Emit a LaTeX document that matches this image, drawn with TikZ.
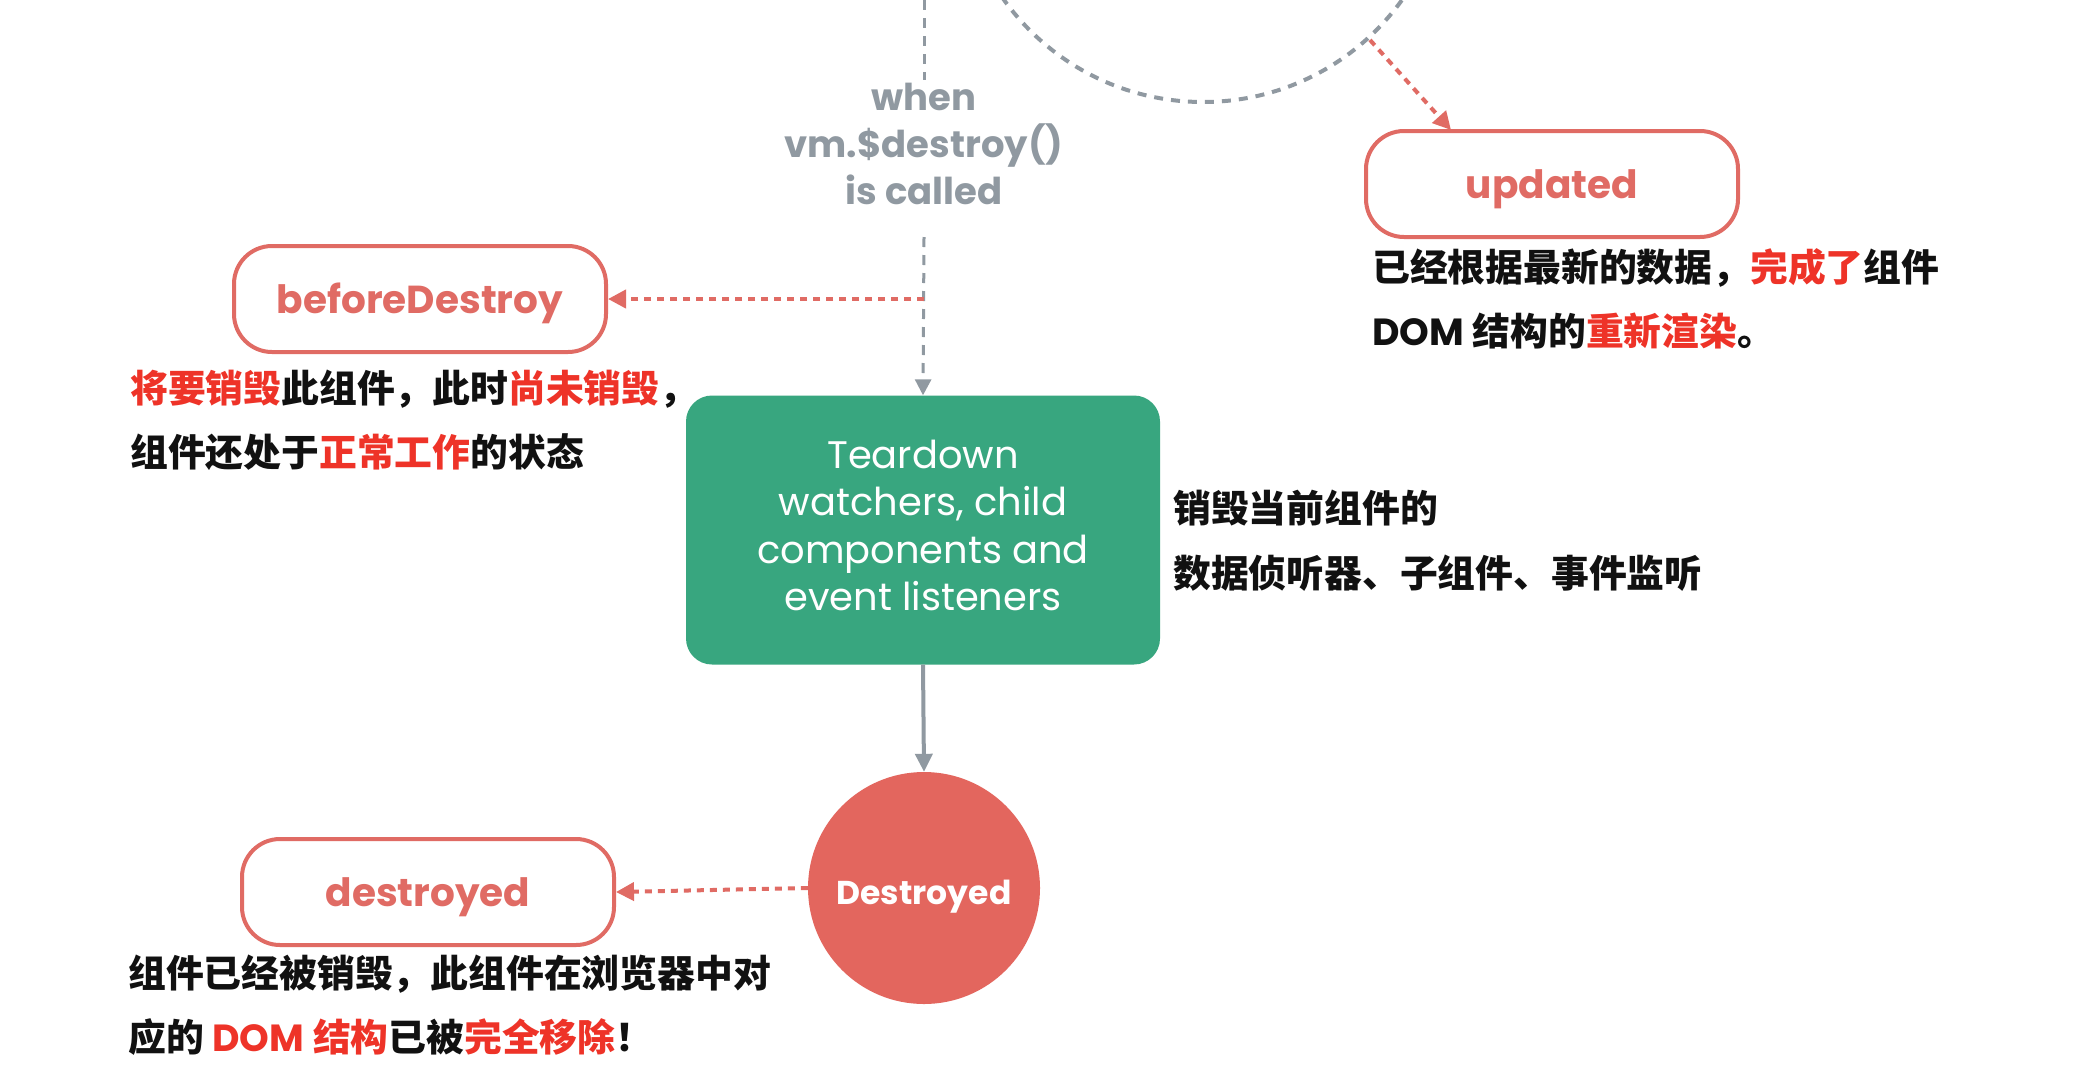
\documentclass[tikz,border=0pt]{standalone}
\usepackage{fontspec}
\setmainfont{Poppins}
\newfontfamily\cjk{Noto Sans CJK SC}
\usetikzlibrary{arrows.meta}
\definecolor{hookred}{HTML}{E06B64}
\definecolor{circred}{HTML}{E3665E}
\definecolor{hlred}{HTML}{EE3328}
\definecolor{vgreen}{HTML}{38A67F}
\definecolor{vgray}{HTML}{9099A1}
\definecolor{txtblack}{HTML}{111111}
\tikzset{
  hook/.style={draw=hookred, line width=4pt, rounded corners=38pt, fill=white,
    minimum width=372pt, minimum height=106pt, text=hookred,
    text height=28pt, text depth=0pt,
    font=\fontsize{39}{45}\selectfont\bfseries},
  desc/.style={anchor=base west, inner sep=0pt, text=txtblack,
    font=\cjk\fontsize{37.8}{44}\selectfont\bfseries},
  rdash/.style={draw=hookred, line width=4pt, dash pattern=on 7pt off 6pt,
    -{Triangle[length=18pt,width=18pt]}},
  gdash/.style={draw=vgray, line width=3pt, dash pattern=on 10pt off 8pt},
  tip/.style={-{Triangle[length=18pt,width=17pt]}},
}
\newcommand{\hl}[1]{{\color{hlred}#1}}
\newcommand{\dom}{{\rmfamily\bfseries DOM}}
\begin{document}
\begin{tikzpicture}[x=1pt,y=-1pt]
\useasboundingbox[fill=white] (0,0) rectangle (2085,1090);

% dashed loop circle at top
\begin{scope}
\clip (0,0) rectangle (2085,1090);
\draw[draw=vgray, line width=4pt, dash pattern=on 9pt off 8pt] (1203,-143) circle (245);
\end{scope}

% nodes
\node[hook] (upd) at (1552,184) {updated};
\node[hook] (bd) at (420,299) {beforeDestroy};
\node[hook] (dd) at (428,892) {destroyed};

\node[draw=none, fill=vgreen, rounded corners=26pt, minimum width=474pt, minimum height=269pt,
  label={[name=tdtext, text=white, align=center, yshift=4.7pt,
  font=\fontsize{38.4}{47.5}\selectfont]center:Teardown\\watchers, child\\components and\\event listeners}]
  (td) at (923,530) {};

\node[circle, fill=circred, minimum size=232pt, inner sep=0pt, text=white,
  text height=33pt, text depth=0pt,
  font=\fontsize{33}{40}\selectfont\bfseries] (dc) at (924,888) {Destroyed};

\node[text=vgray, align=center, font=\fontsize{37}{47}\selectfont\bfseries] (when) at (924,144)
  {when\\vm.\$destroy()\\is called};

% descriptions
\node[desc] (u1) at (1372,281) {已经根据最新的数据，\hl{完成了}组件};
\node[desc] (u2) at (1372,345) {\dom{} 结构的\hl{重新渲染}。};
\node[desc] (b1) at (130,402) {\hl{将要销毁}此组件，此时\hl{尚未销毁}，};
\node[desc] (b2) at (130,466) {组件还处于\hl{正常工作}的状态};
\node[desc] (t1) at (1173,522) {销毁当前组件的};
\node[desc] (t2) at (1173,587) {数据侦听器、子组件、事件监听};
\node[desc] (d1) at (128,987) {组件已经被销毁，此组件在浏览器中对};
\node[desc] (d2) at (128,1051) {应的 \hl{\dom{} 结构}已被\hl{完全移除}！};

% coordinates for connectors
\coordinate (vtop) at (924,0);
\coordinate (vt1) at (924,80);
\coordinate (vt2) at (924,237);
\coordinate (bdsrc) at (924,299);
\coordinate (upsrc) at (1370,40);
\coordinate (uptgt) at (1451,130);

% connectors
\draw[gdash] (vtop) -- (vt1);
\draw[gdash, draw=vgray, -{Triangle[length=16pt,width=16pt]}] (vt2) -- (td.north);
\draw[rdash] (bdsrc) -- (bd.east);
\draw[rdash] (upsrc) -- (uptgt);
\draw[draw=vgray, line width=4pt, tip] (td.south) -- (dc.north);
\draw[rdash] (dc.west) -- (dd.east);
\end{tikzpicture}
\end{document}
